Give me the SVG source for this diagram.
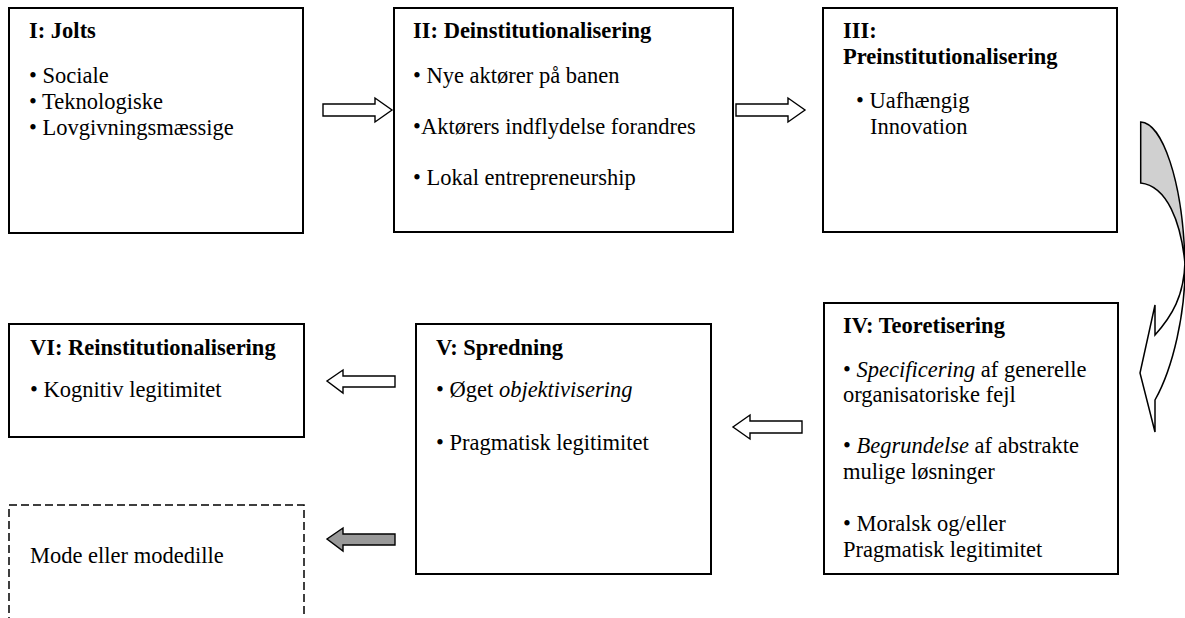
<svg xmlns="http://www.w3.org/2000/svg" width="1185" height="618" viewBox="0 0 1185 618">
  <style>
    .box { fill: #ffffff; stroke: #000000; stroke-width: 2; }
    .dash { fill: #ffffff; stroke: #000000; stroke-width: 1.5; stroke-dasharray: 8 4; }
    .arrow { fill: #ffffff; stroke: #000000; stroke-width: 1.4; stroke-linejoin: miter; }
    .arrow-grey { fill: #999999; stroke: #000000; stroke-width: 1.4; }
    .curve-back { fill: #d0d0d0; stroke: #000000; stroke-width: 1.5; }
    .curve-front { fill: #ffffff; stroke: #000000; stroke-width: 1.5; }
    text { font-family: "Liberation Serif", "Times New Roman", serif; font-size: 22.5px; fill: #000000; }
    .title { font-weight: bold; }
    .em { font-style: italic; }
  </style>

  <rect width="1185" height="618" fill="#ffffff"/>

  <!-- Top row -->
  <g id="node-jolts">
    <rect class="box" x="9" y="8" width="294" height="225"/>
    <text class="title" x="29" y="38">I: Jolts</text>
    <text x="29" y="83">• Sociale</text>
    <text x="29" y="109">• Teknologiske</text>
    <text x="29" y="135">• Lovgivningsmæssige</text>
  </g>

  <g id="node-deinstitutionalisering">
    <rect class="box" x="394" y="8" width="339" height="224"/>
    <text class="title" x="413" y="38">II: Deinstitutionalisering</text>
    <text x="413" y="83">• Nye aktører på banen</text>
    <text x="413" y="134">•Aktørers indflydelse forandres</text>
    <text x="413" y="185">• Lokal entrepreneurship</text>
  </g>

  <g id="node-preinstitutionalisering">
    <rect class="box" x="823" y="8" width="294" height="224"/>
    <text class="title" x="843" y="38">III:</text>
    <text class="title" x="843" y="64">Preinstitutionalisering</text>
    <text x="856" y="108">• Uafhængig</text>
    <text x="870" y="134">Innovation</text>
  </g>

  <!-- Bottom row -->
  <g id="node-teoretisering">
    <rect class="box" x="824" y="303" width="294" height="271"/>
    <text class="title" x="843" y="333">IV: Teoretisering</text>
    <text x="843" y="377">• <tspan class="em">Specificering</tspan> af generelle</text>
    <text x="843" y="402">organisatoriske fejl</text>
    <text x="843" y="453">• <tspan class="em">Begrundelse</tspan> af abstrakte</text>
    <text x="843" y="479">mulige løsninger</text>
    <text x="843" y="531">• Moralsk og/eller</text>
    <text x="843" y="557">Pragmatisk legitimitet</text>
  </g>

  <g id="node-spredning">
    <rect class="box" x="416" y="324" width="295" height="250"/>
    <text class="title" x="436" y="355">V: Spredning</text>
    <text x="436" y="397">• Øget <tspan class="em">objektivisering</tspan></text>
    <text x="436" y="450">• Pragmatisk legitimitet</text>
  </g>

  <g id="node-reinstitutionalisering">
    <rect class="box" x="9" y="324" width="295" height="113"/>
    <text class="title" x="30" y="355">VI: Reinstitutionalisering</text>
    <text x="30" y="397">• Kognitiv legitimitet</text>
  </g>

  <g id="node-mode">
    <rect class="dash" x="9" y="505" width="295" height="125"/>
    <text x="30" y="563">Mode eller modedille</text>
  </g>

  <!-- Block arrows between stages -->
  <g id="connectors">
    <!-- I to II -->
    <path class="arrow" d="M323,104 L375,104 L375,98 L392,110 L375,122 L375,116 L323,116 Z"/>
    <!-- II to III -->
    <path class="arrow" d="M736,104 L788,104 L788,98 L805,110 L788,122 L788,116 L736,116 Z"/>
    <!-- III to IV: curved arrow, back face shaded -->
    <path class="curve-back" d="M1140.7,122 C1162,123 1183,180 1185,264 C1181,222 1167,186 1140.7,183 Z"/>
    <path class="curve-front" d="M1185,262 C1186,312 1173,368 1155,400 L1155,432 L1140,373 L1155,305 L1155,335 C1172,316 1184,296 1185,262 Z"/>
    <!-- IV to V -->
    <path class="arrow" d="M802,421 L750,421 L750,415 L733,427 L750,439 L750,433 L802,433 Z"/>
    <!-- V to VI -->
    <path class="arrow" d="M395,376 L343,376 L343,370 L327,381 L343,393 L343,387 L395,387 Z"/>
    <!-- V to fashion -->
    <path class="arrow-grey" d="M395,534 L343,534 L343,528 L327,539 L343,551 L343,545 L395,545 Z"/>
  </g>
</svg>
